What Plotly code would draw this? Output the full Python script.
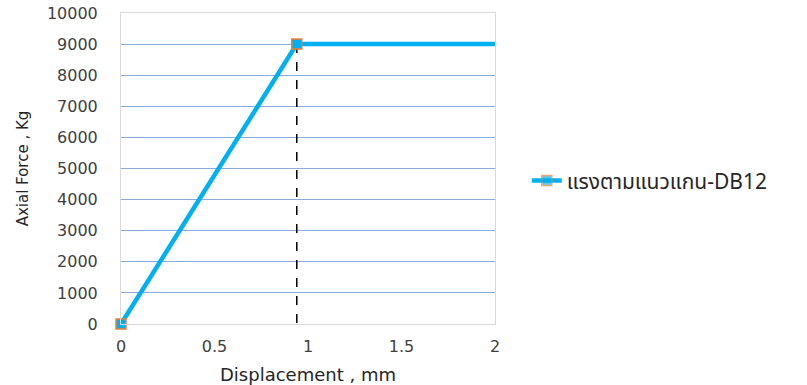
import plotly.graph_objects as go

# Load–displacement data for the DB12 bar
displacement = [0, 0.94, 2]
axial_force = [0, 9000, 9000]
yield_disp = 0.94
yield_force = 9000
series_name = "แรงตามแนวแกน-DB12"

fig = go.Figure()

# Vertical dashed reference at the yield point
fig.add_trace(go.Scatter(
    x=[yield_disp, yield_disp], y=[yield_force, -250],
    mode="lines", line=dict(color="black", width=1.5, dash="dash"),
    showlegend=False, hoverinfo="skip", cliponaxis=False,
))

fig.add_trace(go.Scatter(
    x=displacement, y=axial_force, name=series_name,
    mode="lines+markers",
    line=dict(color="#00B0F0", width=4.5),
    marker=dict(symbol="square", size=10, color="#00B0F0",
                opacity=[1, 1, 0],
                line=dict(color="#ED7D31", width=1.5)),
    cliponaxis=False,
))

fig.update_layout(
    width=807, height=385,
    margin=dict(l=121, r=312, t=13, b=61),
    paper_bgcolor="white", plot_bgcolor="white",
    font=dict(family="DejaVu Sans", color="#404040", size=16),
    showlegend=True,
    legend=dict(x=1.085, y=0.46, xanchor="left", yanchor="middle",
                font=dict(family="Noto Sans Thai, Noto Serif Thai, Liberation Serif, serif",
                          size=21, color="#262626"),
                bgcolor="rgba(0,0,0,0)"),
    xaxis=dict(range=[0, 2], tickvals=[0, 0.5, 1, 1.5, 2],
               ticktext=["0", "0.5", "1", "1.5", "2"],
               showgrid=False, zeroline=False, automargin=False,
               showline=True, linecolor="#D9D9D9", linewidth=1, mirror=True,
               ticks="", ticklabelstandoff=8,
               title=dict(text="Displacement , mm", font=dict(size=18, color="#262626"), standoff=13)),
    yaxis=dict(range=[0, 10000], dtick=1000, tickformat="d",
               showgrid=True, gridcolor="#8EA9DB", gridwidth=1,
               zeroline=False, showline=True, linecolor="#D9D9D9", linewidth=1, mirror=True,
               ticks="", ticklabelstandoff=19, automargin=False,
               title=dict(text="Axial Force , Kg", font=dict(size=15, color="#262626"), standoff=14)),
)

fig.write_html("out.html")
